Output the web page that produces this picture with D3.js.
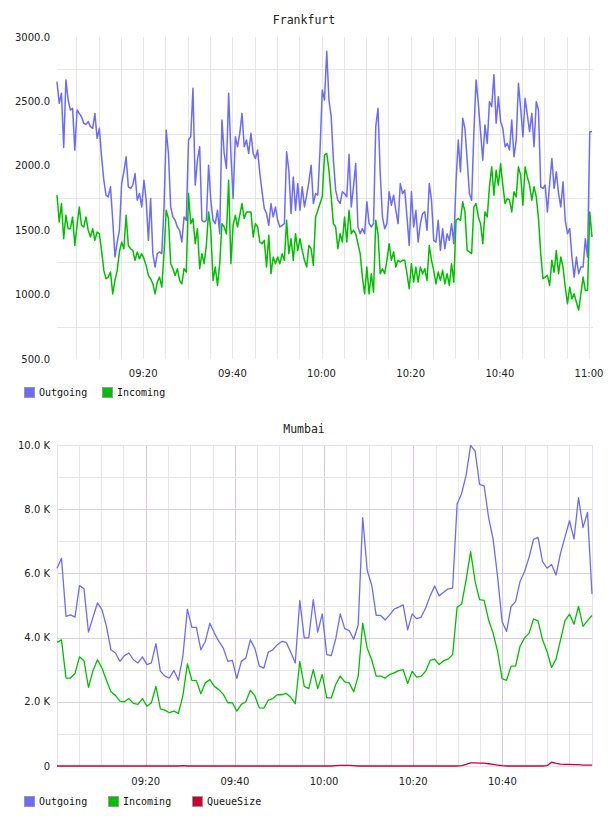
<!DOCTYPE html>
<html>
<head>
<meta charset="utf-8">
<script src="https://cdn.jsdelivr.net/npm/d3@7"></script>
<style>
  body { margin: 0; background: #fff; }
  #wrapper { width: 608px; height: 816px; }
</style>
</head>
<body>
<div id="wrapper"></div>
<script>
// ---- Frankfurt: one reading every 30 seconds ----
const frankfurtStart = "09:00:40"
const frankfurtStepSeconds = 30
const frankfurtOutgoing = [
  2654, 2485, 2563, 2143, 2667, 2511, 2433, 2446, 2122, 2433,
  2407, 2381, 2330, 2322, 2343, 2304, 2291, 2407, 2213, 2291,
  2070, 1888, 1772, 1759, 1837, 1577, 1292, 1408, 1499, 1863,
  1953, 2070, 1837, 1824, 1850, 1940, 1733, 1785, 1681, 1888,
  1733, 1421, 1746, 1318, 1214, 1318, 1331, 1318, 1681, 2278,
  2096, 1681, 1603, 1577, 1525, 1499, 1408, 1603, 1577, 2200,
  2226, 2602, 1850, 2044, 2148, 1577, 1564, 1577, 2005, 1733,
  1577, 1551, 1655, 1473, 2356, 2096, 1979, 2563, 2096, 1746,
  2226, 2148, 2252, 2407, 2148, 2200, 2096, 2252, 2096, 2057,
  2122, 1940, 1798, 1668, 1629, 1538, 1707, 1603, 1681, 1577,
  1525, 1538, 1551, 2109, 1966, 1629, 1914, 1655, 1863, 1655,
  1837, 1681, 1772, 1876, 2005, 1707, 1785, 1772, 2122, 2589,
  2511, 2890, 2511, 2382, 2044, 1811, 1733, 1707, 1798, 1785,
  1759, 2090, 1681, 1837, 2018, 1525, 1473, 1512, 1473, 1720,
  1551, 1525, 1551, 2304, 2446, 1940, 1603, 1512, 1551, 1798,
  1694, 1772, 1655, 1551, 1863, 1785, 1811, 1603, 1382, 1798,
  1525, 1655, 1408, 1551, 1629, 1642, 1499, 1863, 1733, 1421,
  1408, 1577, 1343, 1512, 1356, 1473, 1421, 1551, 1395, 1876,
  2200, 1953, 2369, 2291, 2044, 1785, 1733, 2252, 2667, 2485,
  2265, 2044, 2317, 2174, 2498, 2459, 2706, 2330, 2537, 2343,
  2291, 2148, 2174, 2122, 2356, 2070, 2200, 2641, 2446, 2226,
  2524, 2394, 2265, 2407, 2148, 2498, 2433, 1837, 1824, 1850,
  1642, 1863, 2057, 1824, 1953, 1785, 1681, 1876, 1577, 1473,
  1512, 1292, 1136, 1292, 1162, 1214, 1214, 1434, 1292, 2265,
  2265
]
const frankfurtIncoming = [
  1772, 1564, 1707, 1434, 1616, 1512, 1512, 1603, 1382, 1538,
  1681, 1538, 1525, 1603, 1499, 1447, 1512, 1421, 1486, 1473,
  1343, 1188, 1123, 1136, 1175, 1006, 1110, 1188, 1331, 1408,
  1356, 1616, 1382, 1356, 1343, 1266, 1331, 1279, 1318, 1279,
  1227, 1149, 1123, 1084, 1006, 1097, 1136, 1058, 1318, 1655,
  1590, 1240, 1201, 1149, 1201, 1110, 1084, 1201, 1175, 1785,
  1551, 1590, 1395, 1512, 1201, 1318, 1240, 1382, 1642, 1499,
  1110, 1214, 1071, 1240, 1551, 1525, 1473, 1888, 1240, 1538,
  1616, 1525, 1616, 1707, 1590, 1642, 1642, 1642, 1447, 1551,
  1525, 1408, 1395, 1421, 1214, 1460, 1162, 1292, 1240, 1292,
  1240, 1318, 1266, 1577, 1318, 1434, 1266, 1473, 1343, 1434,
  1343, 1266, 1214, 1382, 1356, 1227, 1603, 1655, 1707, 1759,
  2083, 2096, 1966, 1759, 1551, 1525, 1356, 1473, 1408, 1603,
  1408, 1655, 1473, 1499, 1473, 1395, 1318, 1136, 1006, 1214,
  1006, 1162, 1019, 1577, 1473, 1162, 1201, 1162, 1266, 1395,
  1266, 1331, 1214, 1266, 1253, 1266, 1266, 1162, 1045, 1240,
  1097, 1214, 1097, 1214, 1162, 1201, 1110, 1382, 1266, 1188,
  1084, 1175, 1110, 1188, 1084, 1162, 1071, 1240, 1097, 1577,
  1590, 1577, 1720, 1642, 1343, 1331, 1318, 1681, 1707, 1603,
  1551, 1395, 1642, 1603, 1837, 1992, 1772, 1966, 1850, 2018,
  1850, 1707, 1746, 1733, 1642, 1798, 1759, 1992, 1927, 1694,
  1992, 1914, 1850, 1733, 1837, 1759, 1590, 1318, 1123, 1136,
  1149, 1071, 1266, 1175, 1343, 1162, 1292, 1214, 1058, 929,
  1058, 967, 1006, 941, 880, 1006, 1136, 1032, 1032, 1642,
  1447
]
const frankfurtYTicks = [500, 1000, 1500, 2000, 2500, 3000]
const frankfurtYGrid = [750, 1250, 1750, 2250, 2750]
const frankfurtXTicks = ["09:20", "09:40", "10:00", "10:20", "10:40", "11:00"]

// ---- Mumbai: roughly one reading a minute ----
const mumbaiStart = "09:00:06"
const mumbaiStepSeconds = 60.5
const mumbaiOutgoing = [
  6160, 6470, 4660, 4710, 4640, 5620, 5520, 4170, 4630, 5080,
  4870, 4350, 3620, 3520, 3260, 3440, 3520, 3310, 3210, 3400,
  3160, 3210, 3810, 2950, 2800, 2740, 2980, 2670, 3420, 4890,
  4320, 4320, 3620, 3880, 4450, 4140, 3880, 3670, 3260, 3290,
  2730, 3260, 3360, 3930, 3670, 3110, 3050, 3550, 3620, 3780,
  3880, 3850, 3540, 3210, 5160, 3990, 3990, 5180, 4170, 4740,
  3470, 3440, 3960, 4740, 4280, 4220, 3950, 4400, 7740, 6090,
  5640, 4690, 4690, 4550, 4710, 4890, 4950, 5020, 4240, 4740,
  4590, 4640, 4920, 5300, 5610, 5300, 5410, 5520, 5540, 8160,
  8490, 9060, 9990, 9810, 8770, 8730, 7740, 7070, 5900, 4500,
  4190, 4970, 5120, 5750, 6060, 6500, 7060, 7120, 6370, 6160,
  6280, 5950, 6630, 7140, 7640, 7070, 8360, 7430, 7900, 5360
]
const mumbaiIncoming = [
  3850, 3930, 2740, 2740, 2880, 3400, 3280, 2450, 2970, 3310,
  3050, 2670, 2310, 2200, 2020, 2000, 2100, 1950, 1920, 2100,
  1860, 1970, 2480, 1780, 1740, 1660, 1710, 1640, 2190, 3180,
  2670, 2660, 2250, 2590, 2690, 2480, 2380, 2230, 1970, 1970,
  1710, 1920, 2000, 2360, 2190, 1810, 1800, 2050, 2100, 2220,
  2220, 2260, 2140, 1940, 3260, 2480, 2410, 3000, 2410, 2850,
  2120, 2120, 2540, 2800, 2620, 2590, 2310, 2800, 4450, 3670,
  3310, 2800, 2800, 2740, 2850, 2900, 2970, 3000, 2570, 2950,
  2770, 2800, 2950, 3290, 3330, 3160, 3280, 3330, 3470, 4950,
  5040, 5800, 6680, 5750, 5180, 5160, 4550, 4140, 3570, 2720,
  2670, 3110, 3110, 3730, 3990, 4140, 4580, 4520, 3930, 3570,
  3070, 3330, 3930, 4530, 4730, 4420, 4970, 4350, 4530, 4690
]
const mumbaiQueueSize = [
  0, 0, 0, 0, 0, 0, 0, 0, 0, 0,
  0, 0, 0, 0, 0, 0, 0, 0, 0, 0,
  0, 0, 0, 0, 0, 0, 0, 0, 10, 0,
  0, 0, 0, 0, 0, 0, 0, 0, 0, 0,
  0, 0, 0, 0, 0, 0, 0, 0, 0, 0,
  0, 0, 0, 0, 0, 0, 0, 0, 0, 0,
  0, 0, 10, 20, 20, 20, 10, 0, 0, 0,
  0, 0, 0, 0, 0, 0, 0, 0, 0, 0,
  0, 0, 0, 0, 0, 0, 0, 0, 0, 0,
  10, 50, 100, 100, 90, 90, 70, 50, 30, 10,
  0, 0, 0, 0, 0, 0, 0, 0, 0, 10,
  120, 80, 60, 50, 50, 40, 40, 30, 30, 30
]
const mumbaiYTicks = [0, 2000, 4000, 6000, 8000, 10000]
const mumbaiYMajorGrid = [2000, 4000, 6000, 8000]
const mumbaiYMinorGrid = [1000, 3000, 5000, 7000, 9000]
const mumbaiXTicks = ["09:20", "09:40", "10:00", "10:20", "10:40"]

const seriesNames = ["Outgoing", "Incoming", "QueueSize"]
const seriesColors = ["#6b6bff", "#00c000", "#cc0033"]

const parseTime = d3.timeParse("%H:%M:%S")
const parseTick = d3.timeParse("%H:%M")

// turn a start time + step into a list of timestamps for each reading
function timesFor(start, stepSeconds, count) {
  const t0 = parseTime(start)
  return d3.range(count).map(i => new Date(t0.getTime() + i * stepSeconds * 1000))
}

const svg = d3.select("#wrapper")
  .append("svg")
    .attr("width", 608)
    .attr("height", 816)

function drawPanel(cfg) {
  const dims = {
    left: 57,
    right: 593,
    top: cfg.top,
    bottom: cfg.bottom,
  }
  const times = timesFor(cfg.start, cfg.step, cfg.series[0].length)

  const xScale = d3.scaleTime()
    .domain(d3.extent(times))
    .range([dims.left, cfg.xEnd])

  const yScale = d3.scaleLinear()
    .domain(cfg.yDomain)
    .range([dims.bottom, dims.top])

  const g = svg.append("g")

  // title
  g.append("text")
    .attr("x", 304)
    .attr("y", cfg.titleY)
    .attr("text-anchor", "middle")
    .style("font-family", "'DejaVu Sans Mono', monospace")
    .style("font-size", "11.5px")
    .style("fill", "#222")
    .text(cfg.title)

  // vertical grid, every 5 minutes
  const gridTimes = d3.timeMinute.every(5).range(xScale.domain()[0], xScale.domain()[1])
  g.append("g").selectAll("line")
    .data(gridTimes)
    .join("line")
      .attr("x1", d => Math.round(xScale(d)) + 0.5)
      .attr("x2", d => Math.round(xScale(d)) + 0.5)
      .attr("y1", dims.top)
      .attr("y2", dims.bottom)
      .style("stroke", d => cfg.majorX && d.getMinutes() % 20 === 0 ? cfg.majorColor : cfg.gridColor)
      .style("stroke-width", 1)

  // horizontal grid
  cfg.yGrid.forEach(set => {
    g.append("g").selectAll("line")
      .data(set.values)
      .join("line")
        .attr("x1", dims.left)
        .attr("x2", dims.right)
        .attr("y1", d => Math.round(yScale(d)) + 0.5)
        .attr("y2", d => Math.round(yScale(d)) + 0.5)
        .style("stroke", set.color)
        .style("stroke-width", 1)
  })

  // plot border (Mumbai only)
  if (cfg.borderColor) {
    g.append("rect")
      .attr("x", dims.left + 0.5)
      .attr("y", dims.top + 0.5)
      .attr("width", dims.right - dims.left - 1)
      .attr("height", dims.bottom - dims.top)
      .style("fill", "none")
      .style("stroke", cfg.borderColor)
  }

  // y tick labels
  g.append("g").selectAll("text")
    .data(cfg.yTicks)
    .join("text")
      .attr("x", 50)
      .attr("y", d => yScale(d))
      .attr("dy", "0.35em")
      .attr("text-anchor", "end")
      .style("font-family", "'DejaVu Sans', sans-serif")
      .style("font-size", "10px")
      .style("fill", "#222")
      .text(cfg.yFormat)

  // x tick labels
  g.append("g").selectAll("text")
    .data(cfg.xTicks)
    .join("text")
      .attr("x", d => xScale(parseTick(d)))
      .attr("y", cfg.xLabelY)
      .attr("text-anchor", "middle")
      .style("font-family", "'DejaVu Sans', sans-serif")
      .style("font-size", "10px")
      .style("fill", "#222")
      .text(d => d)

  // the lines
  const lineGenerator = d3.line()
    .x((d, i) => xScale(times[i]))
    .y(d => yScale(d))

  cfg.series.forEach((values, k) => {
    g.append("path")
      .datum(values)
      .attr("d", lineGenerator)
      .style("fill", "none")
      .style("stroke", seriesColors[k])
      .style("stroke-width", cfg.lineWidth)
      .style("stroke-linejoin", "round")
  })

  // legend
  const names = seriesNames.slice(0, cfg.series.length)
  const itemWidth = 30 + 6 * d3.max(names, d => d.length)
  const legend = g.append("g").selectAll("g")
    .data(names)
    .join("g")
      .attr("transform", (d, i) => `translate(${24 + i * itemWidth}, ${cfg.legendY})`)
  legend.append("rect")
    .attr("x", 0.5)
    .attr("y", -4.5)
    .attr("width", 10)
    .attr("height", 10)
    .style("fill", (d, i) => seriesColors[i])
    .style("stroke", "#999")
  legend.append("text")
    .attr("x", 15)
    .attr("y", 4)
    .style("font-family", "'DejaVu Sans Mono', monospace")
    .style("font-size", "10px")
    .style("fill", "#111")
    .text(d => d)
}

drawPanel({
  title: "Frankfurt",
  titleY: 24,
  top: 37,
  bottom: 359,
  xEnd: 592,
  start: frankfurtStart,
  step: frankfurtStepSeconds,
  series: [frankfurtOutgoing, frankfurtIncoming],
  yDomain: [500, 3000],
  yTicks: frankfurtYTicks,
  yFormat: d => d3.format(".1f")(d),
  yGrid: [{ values: frankfurtYGrid, color: "#e6e6e6" }],
  gridColor: "#e6e6e6",
  majorX: false,
  xTicks: frankfurtXTicks,
  xLabelY: 377,
  lineWidth: 1.5,
  legendY: 392,
})

drawPanel({
  title: "Mumbai",
  titleY: 433,
  top: 445,
  bottom: 766,
  xEnd: 592,
  start: mumbaiStart,
  step: mumbaiStepSeconds,
  series: [mumbaiOutgoing, mumbaiIncoming, mumbaiQueueSize],
  yDomain: [0, 10000],
  yTicks: mumbaiYTicks,
  yFormat: d => d === 0 ? "0" : d3.format(".1f")(d / 1000) + " K",
  yGrid: [
    { values: mumbaiYMinorGrid, color: "#e6e6e6" },
    { values: mumbaiYMajorGrid, color: "#e0c8e0" },
  ],
  gridColor: "#e6e6e6",
  majorX: true,
  majorColor: "#dcc4dc",
  borderColor: "#ecdcec",
  xTicks: mumbaiXTicks,
  xLabelY: 785,
  lineWidth: 1.3,
  legendY: 801,
})
</script>
</body>
</html>
